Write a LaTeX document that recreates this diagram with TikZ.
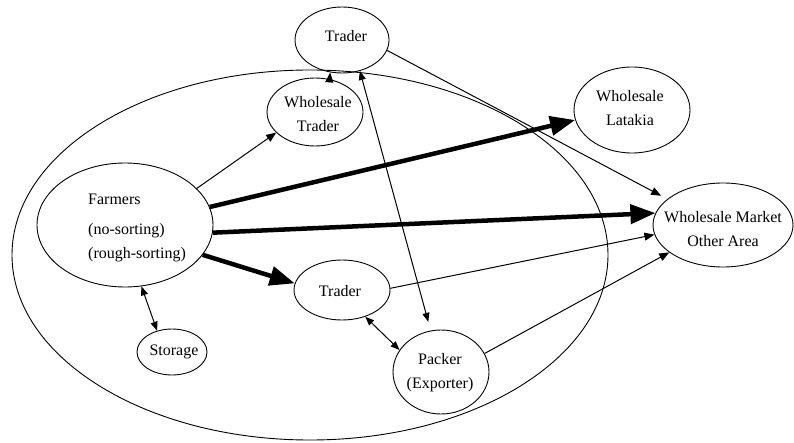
\documentclass[tikz,border=0pt]{standalone}
\usepackage{fontspec}
\setmainfont{Liberation Serif}
\usetikzlibrary{shapes.geometric,arrows.meta}

\tikzset{
  oval/.style={draw, ellipse, inner sep=0pt, line width=0.9pt},
  lbl/.style={inner sep=0pt, align=center, font=\fontsize{16}{24}\selectfont},
  thinarr/.style={line width=1pt, -{Triangle[length=10pt,width=8pt]}},
  dblarr/.style={line width=1pt, {Triangle[length=9pt,width=7pt]}-{Triangle[length=9pt,width=7pt]}},
  thickarr/.style={line width=4.5pt, -{Triangle[length=25pt,width=19pt]}}
}

\begin{document}
\begin{tikzpicture}[x=1pt,y=-1pt]
\useasboundingbox (0,0) rectangle (794,443);

% outer boundary of the local market
\draw[line width=0.9pt] (310,255) ellipse [x radius=298, y radius=185];

% actors
\node[oval, minimum width=94pt, minimum height=66pt] (tt) at (342,40) {};
\node[oval, minimum width=96pt, minimum height=68pt] (wt) at (315,112) {};
\node[oval, minimum width=116pt, minimum height=86pt] (wl) at (632,110) {};
\node[oval, minimum width=140pt, minimum height=84pt] (wm) at (723,225) {};
\node[oval, minimum width=176pt, minimum height=124pt] (fa) at (125,225) {};
\node[oval, minimum width=96pt, minimum height=60pt] (tm) at (342,290) {};
\node[oval, minimum width=70pt, minimum height=46pt] (st) at (172,352) {};
\node[oval, minimum width=96pt, minimum height=84pt] (pk) at (441,372) {};

% labels
\node[lbl] (ttl) at (346,36) {Trader};
\node[lbl] (wtl) at (318,114) {Wholesale\\Trader};
\node[lbl] (wll) at (630,108) {Wholesale\\Latakia};
\node[lbl] (wml) at (723,229) {Wholesale Market\\Other Area};
\node[lbl, anchor=west] (fal1) at (88,199) {Farmers};
\node[lbl, anchor=west] (fal2) at (88,231) {(no-sorting)};
\node[lbl, anchor=west] (fal3) at (88,255) {(rough-sorting)};
\node[lbl] (tml) at (340,291) {Trader};
\node[lbl] (stl) at (174,352) {Storage};
\node[lbl] (pkl) at (440,373) {Packer\\(Exporter)};

% flows
\draw[thinarr] (fa.27) -- (wt.208);
\draw[thinarr] (wt.66) -- (tt.250);
\draw[dblarr, shorten >=9pt] (tt.300) -- (pk.104);
\draw[thinarr, shorten >=7pt] (tt.347) -- (wm.155);
\draw[thickarr] (fa.12) -- (wl.190);
\draw[thickarr] (fa.355) -- (wm.170);
\draw[thickarr] (fa.339) -- (tm.172);
\draw[dblarr] (fa.285) -- (st.125);
\draw[thinarr] (tm.2) -- (wm.188);
\draw[dblarr] (tm.311) -- (pk.152);
\draw[thinarr] (pk.23) -- (wm.207);
\end{tikzpicture}
\end{document}
